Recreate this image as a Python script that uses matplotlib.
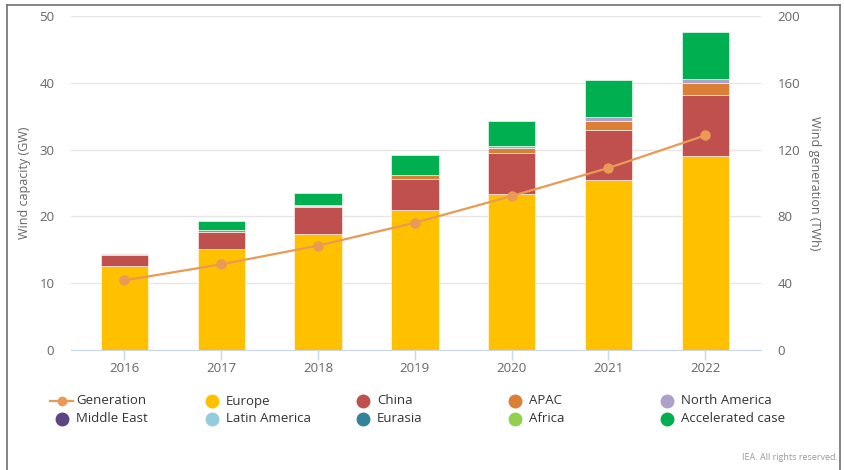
import matplotlib.pyplot as plt
from matplotlib.lines import Line2D
import numpy as np

plt.rcParams['font.family'] = ['Open Sans', 'DejaVu Sans']

years = ['2016', '2017', '2018', '2019', '2020', '2021', '2022']

# capacity additions (GW), stacked
europe        = [12.6, 15.1, 17.4, 20.9, 23.4, 25.5, 29.1]
china         = [1.6, 2.6, 4.0, 4.65, 6.05, 7.45, 9.1]
apac          = [0.15, 0.2, 0.2, 0.6, 0.8, 1.4, 1.7]
north_america = [0.15, 0.05, 0.05, 0.05, 0.3, 0.6, 0.6]
middle_east   = [0, 0, 0, 0, 0, 0, 0]
latin_america = [0, 0, 0, 0, 0, 0, 0]
eurasia       = [0, 0, 0, 0, 0, 0, 0]
africa        = [0, 0, 0, 0, 0, 0, 0]
accelerated   = [0, 1.4, 1.9, 3.0, 3.75, 5.5, 7.1]

# generation (TWh), right axis
generation = [41.7, 51.3, 62.5, 76.2, 92.2, 109.0, 128.5]

series = [
    ('Europe', europe, '#FFC000'),
    ('China', china, '#C0504D'),
    ('APAC', apac, '#DB7F36'),
    ('North America', north_america, '#ADA0CB'),
    ('Middle East', middle_east, '#5C4580'),
    ('Latin America', latin_america, '#93CDDD'),
    ('Eurasia', eurasia, '#31849B'),
    ('Africa', africa, '#92D050'),
    ('Accelerated case', accelerated, '#00B050'),
]
gen_color = '#E99A55'
txt = '#666666'
W, H = 845, 470

fig = plt.figure(figsize=(8.45, 4.70), dpi=100)
ax = fig.add_axes([71 / W, 1 - 350 / H, (761 - 71) / W, (350 - 16) / H])
ax2 = ax.twinx()

x = np.arange(len(years))
bottom = np.zeros(len(years))
for name, vals, col in series:
    vals = np.array(vals, dtype=float)
    ax.bar(x, vals, 0.49, bottom=bottom, color=col, edgecolor='white',
           linewidth=0.4, zorder=2)
    bottom += vals

ax2.plot(x, generation, color=gen_color, lw=1.6, marker='o', ms=6.5,
         zorder=5)

ax.set_xlim(-0.552, 6.576)
ax.set_ylim(0, 50)
ax2.set_ylim(0, 200)
ax.set_yticks(range(0, 51, 10))
ax2.set_yticks(range(0, 201, 40))
ax.set_xticks(x)
ax.set_xticklabels(years)
ax.yaxis.grid(True, color='#e6e6e6', lw=1)
ax.set_axisbelow(True)

for a in (ax, ax2):
    for s in ('top', 'left', 'right', 'bottom'):
        a.spines[s].set_visible(False)
ax.spines['bottom'].set_visible(True)
ax.spines['bottom'].set_color('#ccd6eb')

ax.tick_params(axis='x', colors='#ccd6eb', length=7, width=1, pad=2,
               labelcolor=txt, labelsize=9.5)
ax.tick_params(axis='y', length=0, pad=12, labelcolor=txt, labelsize=9.5)
ax2.tick_params(axis='y', length=0, pad=12, labelcolor=txt, labelsize=9.5)

ax.set_ylabel('Wind capacity (GW)', color=txt, fontsize=9)
ax.yaxis.set_label_coords((31 - 71) / (761 - 71), 0.5)
ax2.set_ylabel('Wind generation (TWh)', color=txt, fontsize=9, rotation=-90,
               va='bottom')
ax2.yaxis.set_label_coords((808 - 71) / (761 - 71), 0.5)

# legend, two rows of five
entries = [('Generation', gen_color, 'line')] + [(n, c, 'dot') for n, _, c in series]
col_x = [62, 212, 363, 515, 667]
row_y = [401, 419]
for i, (name, col, kind) in enumerate(entries):
    cx = col_x[i % 5] / W
    cy = 1 - row_y[i // 5] / H
    if kind == 'line':
        fig.add_artist(Line2D([50 / W, 73 / W], [cy, cy], color=col, lw=1.6,
                              transform=fig.transFigure))
        fig.add_artist(Line2D([cx], [cy], marker='o', ms=6, color=col,
                              transform=fig.transFigure))
    else:
        fig.add_artist(Line2D([cx], [cy], marker='o', ms=9, color=col,
                              lw=0, transform=fig.transFigure))
    fig.text(cx + 14 / W, cy, name, color='#333333', fontsize=9.5,
             va='center', ha='left')

fig.text(838 / W, 1 - 457 / H, 'IEA. All rights reserved.', color='#999999',
         fontsize=6.5, ha='right', va='center')

# outer frame
fr = '#707070'
fig.add_artist(Line2D([7 / W, 7 / W], [0, 1 - 5 / H], color=fr, lw=1.2,
                      transform=fig.transFigure))
fig.add_artist(Line2D([7 / W, 840 / W], [1 - 5 / H, 1 - 5 / H], color=fr,
                      lw=1.2, transform=fig.transFigure))
fig.add_artist(Line2D([840 / W, 840 / W], [0, 1 - 5 / H], color=fr, lw=1.2,
                      transform=fig.transFigure))

fig.savefig('out.png', dpi=100)
